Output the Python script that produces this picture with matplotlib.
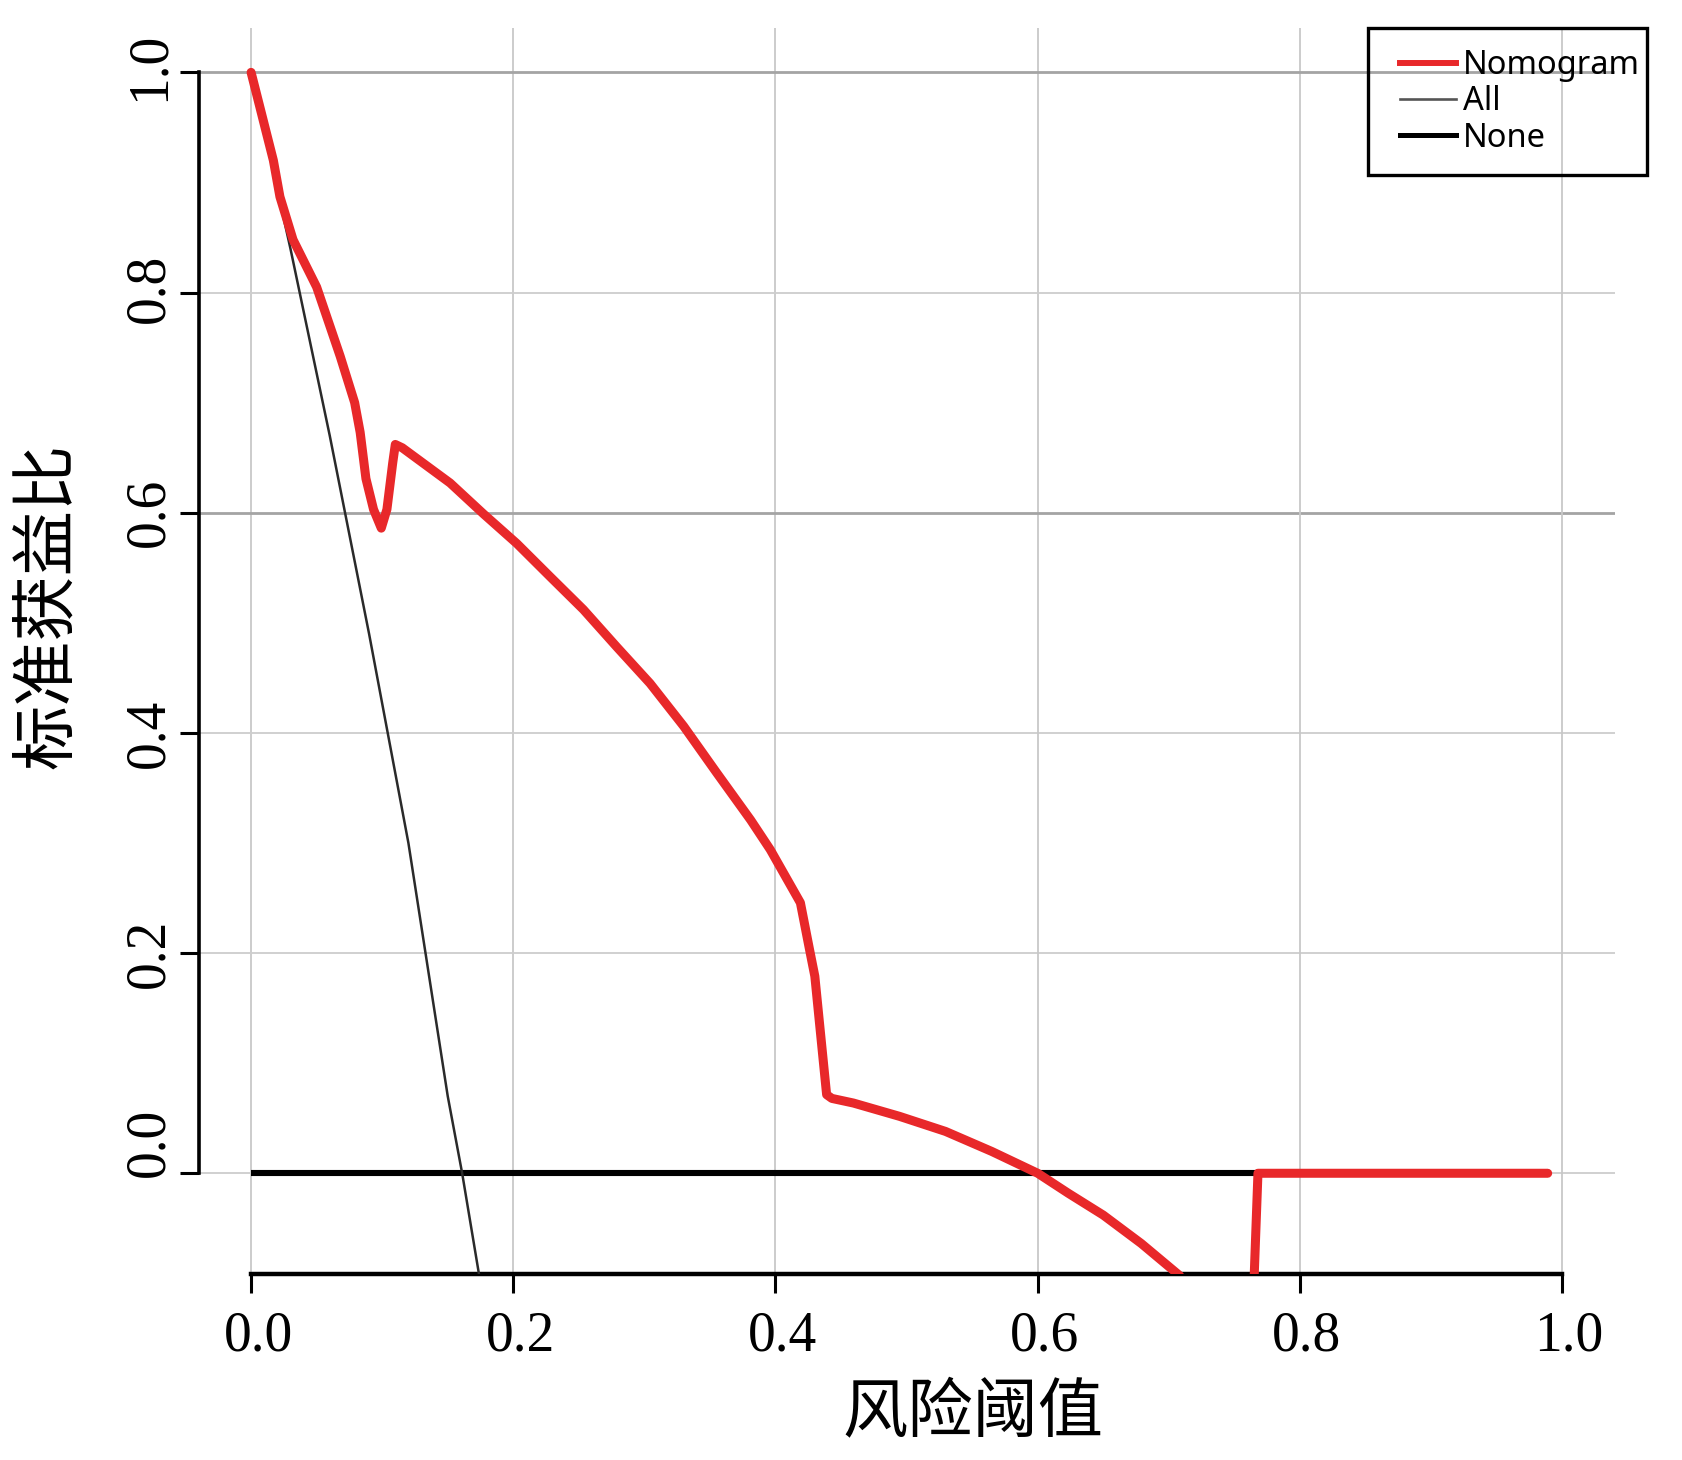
"""Decision curve: standardized net benefit vs. risk threshold."""

import matplotlib

matplotlib.use("Agg")
import matplotlib.pyplot as plt
from matplotlib.lines import Line2D
from matplotlib.patches import Rectangle
from matplotlib.transforms import ScaledTranslation

# nomogram curve
NOMO_X = [0.0, 0.017, 0.022, 0.032, 0.050, 0.068, 0.079, 0.0832, 0.0876,
          0.0934, 0.0993, 0.1036, 0.108, 0.110, 0.1153, 0.1518, 0.1772,
          0.2027, 0.228, 0.2535, 0.279, 0.3043, 0.330, 0.355, 0.381, 0.396,
          0.419, 0.426, 0.430, 0.439, 0.443, 0.4594, 0.4946, 0.5297, 0.565,
          0.600, 0.6234, 0.650, 0.679, 0.708, 0.73, 0.764, 0.768, 0.80, 0.90,
          0.989]
NOMO_Y = [1.0, 0.920, 0.887, 0.848, 0.805, 0.742, 0.700, 0.673, 0.631,
          0.603, 0.586, 0.603, 0.645, 0.662, 0.659, 0.627, 0.599, 0.572,
          0.542, 0.512, 0.478, 0.445, 0.406, 0.364, 0.321, 0.294, 0.2457,
          0.203, 0.179, 0.0714, 0.068, 0.0638, 0.0517, 0.038, 0.0198, 0.0,
          -0.0182, -0.038, -0.0638, -0.0927, -0.13, -0.13, 0.0, 0.0, 0.0, 0.0]

# treat-all curve
ALL_X = [0.0, 0.03, 0.06, 0.09, 0.12, 0.15, 0.161, 0.175]
ALL_Y = [1.0, 0.84, 0.67, 0.49, 0.30, 0.07, 0.0, -0.10]

# treat-none curve
NONE_X = [0.0, 0.989]
NONE_Y = [0.0, 0.0]

TICKS = [0.0, 0.2, 0.4, 0.6, 0.8, 1.0]
TICK_LABELS = ["0.0", "0.2", "0.4", "0.6", "0.8", "1.0"]
LEGEND = ["Nomogram", "All", "None"]
XLABEL = "风险阈值"
YLABEL = "标准获益比"

RED = "#e8282a"
W, H = 1682, 1460
fig = plt.figure(figsize=(W / 100, H / 100), dpi=100)
ax = fig.add_axes([0.1181, 0.1274, 0.8418, 0.8532])
ax.set_xlim(-0.04, 1.04)
ax.set_ylim(-0.0915, 1.04)

# grid (the 1.0 and 0.6 rows print darker in the original)
for t in TICKS:
    ax.axvline(t, color="#c8c8c8", lw=1.3, zorder=0)
    dark = t in (1.0, 0.6)
    ax.axhline(t, color="#a4a4a4" if dark else "#cdcdcd", lw=2.0 if dark else 1.3, zorder=0)

ax.plot(NONE_X, NONE_Y, color="black", lw=4.4, zorder=2, solid_capstyle="butt")
ax.plot(ALL_X, ALL_Y, color="#2a2a2a", lw=1.8, zorder=3)
ax.plot(NOMO_X, NOMO_Y, color=RED, lw=6.5, zorder=4,
        solid_joinstyle="round", solid_capstyle="round")

for side in ("top", "right"):
    ax.spines[side].set_visible(False)
ax.spines["bottom"].set_bounds(0, 1)
ax.spines["left"].set_bounds(0, 1)
ax.spines["bottom"].set_linewidth(3.2)
ax.spines["left"].set_linewidth(2.6)

serif = {"family": "Liberation Serif", "size": 40}
ax.set_xticks(TICKS)
ax.set_xticklabels(TICK_LABELS, fontdict=serif)
ax.set_yticks(TICKS)
ax.set_yticklabels(TICK_LABELS, fontdict=serif, rotation=90, va="center")
ax.tick_params(axis="x", direction="out", length=14, width=2.2, pad=12)
ax.tick_params(axis="y", direction="out", length=14, width=2.2, pad=6)

# small nudges so the labels sit where the original has them (points)
for lab in ax.get_xticklabels():
    lab.set_transform(lab.get_transform() + ScaledTranslation(5 / 72, 0, fig.dpi_scale_trans))
Y_NUDGE = [22, 0, 0, 0, 3, 4]
for lab, dy in zip(ax.get_yticklabels(), Y_NUDGE):
    lab.set_transform(lab.get_transform() + ScaledTranslation(3.5 / 72, dy / 72, fig.dpi_scale_trans))

cjk = ["Noto Sans CJK SC", "DejaVu Sans"]
fig.text(973 / W, 1 - 1414 / H, XLABEL, family=cjk, fontsize=47, ha="center", va="center")
fig.text(48 / W, 1 - 606 / H, YLABEL, family=cjk, fontsize=47, rotation=90,
         ha="center", va="center")

handles = [Line2D([], [], color=RED, lw=4.3),
           Line2D([], [], color="#555555", lw=1.9),
           Line2D([], [], color="black", lw=3.6)]
fig.legend(handles, LEGEND, loc="upper left",
           bbox_to_anchor=(1400 / W, 1 - 49 / H), frameon=False,
           borderpad=0, borderaxespad=0, handlelength=1.72, handletextpad=0.22,
           labelspacing=0.1, prop={"family": "Noto Sans", "size": 23.5})
fig.patches.append(Rectangle((1368 / W, 1 - 175 / H), 279 / W, 147 / H,
                             transform=fig.transFigure, fill=False,
                             edgecolor="black", lw=2.4))

fig.savefig("out.png", dpi=100)
